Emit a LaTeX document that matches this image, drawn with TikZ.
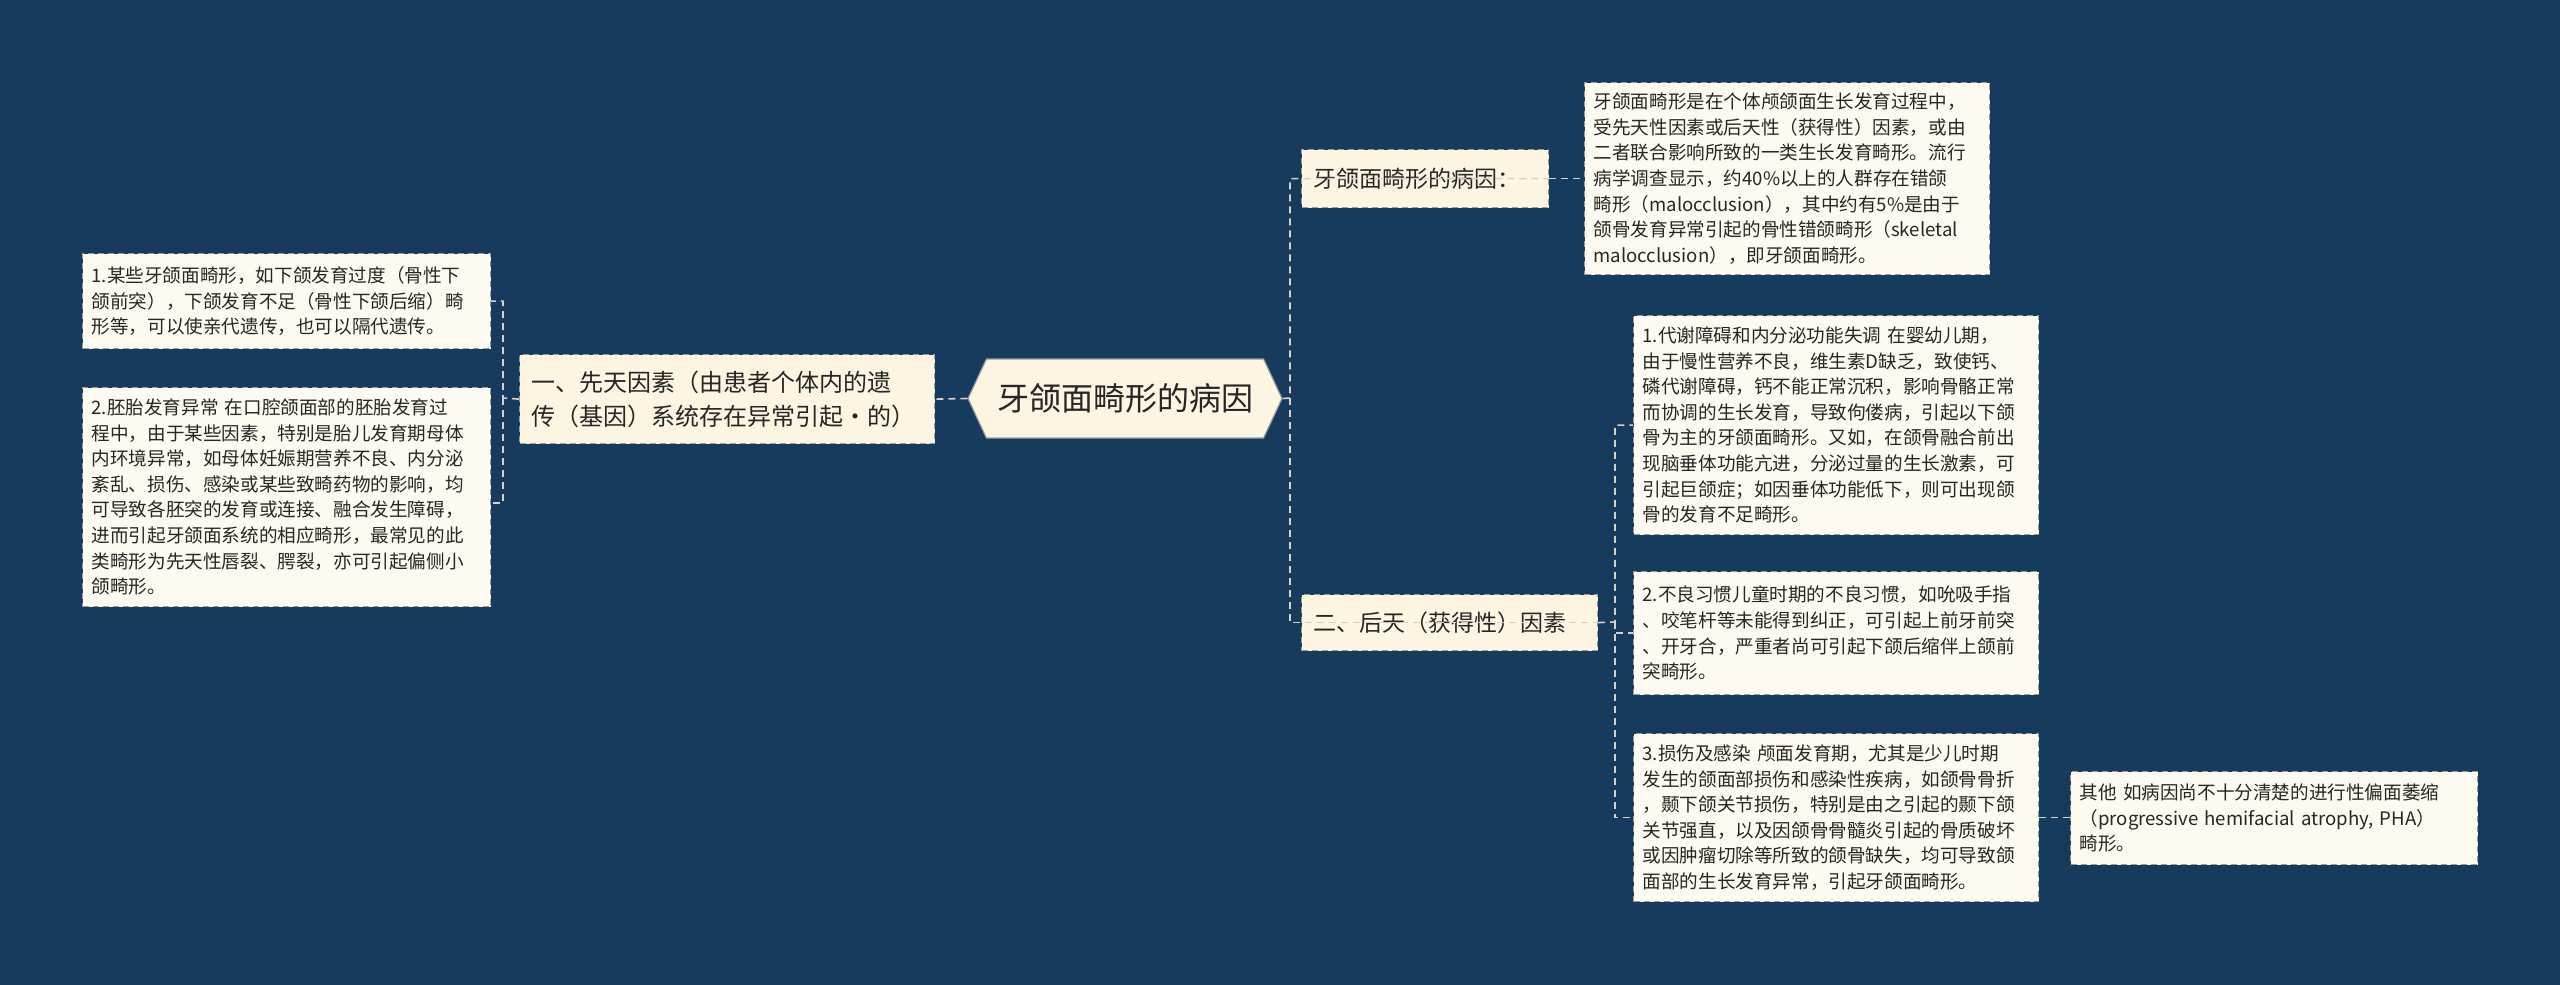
\documentclass[tikz,border=0pt]{standalone}
\usepackage{fontspec}
\setmainfont{Noto Sans CJK SC}
\usetikzlibrary{shapes.symbols}
\definecolor{bgc}{HTML}{173B5C}
\definecolor{boxf}{HTML}{FDFBF1}
\definecolor{midf}{HTML}{FCF5E1}
\definecolor{bord}{HTML}{9A9A9A}
\definecolor{linec}{HTML}{D6D3C6}
\tikzset{
  leaf/.style={draw=bord, dash pattern=on 6pt off 4pt, line width=1.2pt, fill=boxf, anchor=north west, inner xsep=9pt, inner ysep=4pt, align=left,
    font=\fontsize{18.6}{25.6}\selectfont, text=black!85},
  mid/.style={draw=bord, dash pattern=on 6pt off 4pt, line width=1.2pt, fill=midf, anchor=north west, inner xsep=12pt, inner ysep=6pt, align=left,
    font=\fontsize{24}{34}\selectfont, text=black!85},
  conn/.style={draw=linec, dash pattern=on 7pt off 5pt, line width=1.6pt}
}
\begin{document}
\begin{tikzpicture}[x=1pt,y=-1pt]
\fill[bgc] (0,0) rectangle (2560,985);
\useasboundingbox (0,0) rectangle (2560,985);

\node[draw=bord, line width=1.2pt, fill=midf, signal, signal to=west and east, signal pointer angle=130,
  minimum width=314pt, minimum height=79pt, inner sep=4pt, font=\fontsize{32}{38}\selectfont, text=black!85]
  (c) at (1125,398.5) {牙颌面畸形的病因};

\node[mid, text width=391pt, minimum height=89pt] (L) at (519,354)
 {一、先天因素（由患者个体内的遗\\传（基因）系统存在异常引起·的）};
\node[leaf, text width=390pt, minimum height=95pt] (L1) at (82,253)
 {1.某些牙颌面畸形，如下颌发育过度（骨性下\\颌前突），下颌发育不足（骨性下颌后缩）畸\\形等，可以使亲代遗传，也可以隔代遗传。};
\node[leaf, text width=390pt, minimum height=219pt] (L2) at (82,387)
 {2.胚胎发育异常 在口腔颌面部的胚胎发育过\\程中，由于某些因素，特别是胎儿发育期母体\\内环境异常，如母体妊娠期营养不良、内分泌\\紊乱、损伤、感染或某些致畸药物的影响，均\\可导致各胚突的发育或连接、融合发生障碍，\\进而引起牙颌面系统的相应畸形，最常见的此\\类畸形为先天性唇裂、腭裂，亦可引起偏侧小\\颌畸形。};

\node[mid, text width=223pt, minimum height=58pt, font=\fontsize{23}{30}\selectfont] (R1) at (1301,149) {牙颌面畸形的病因：};
\node[leaf, text width=387pt, minimum height=192pt] (R1t) at (1584,82)
 {牙颌面畸形是在个体颅颌面生长发育过程中，\\受先天性因素或后天性（获得性）因素，或由\\二者联合影响所致的一类生长发育畸形。流行\\病学调查显示，约40\%以上的人群存在错颌\\畸形（malocclusion），其中约有5\%是由于\\颌骨发育异常引起的骨性错颌畸形（skeletal\\malocclusion），即牙颌面畸形。};

\node[mid, text width=272pt, minimum height=56pt, font=\fontsize{23}{30}\selectfont] (R2) at (1301,594) {二、后天（获得性）因素};
\node[leaf, text width=387pt, minimum height=219pt] (A1) at (1633,315)
 {1.代谢障碍和内分泌功能失调 在婴幼儿期，\\由于慢性营养不良，维生素D缺乏，致使钙、\\磷代谢障碍，钙不能正常沉积，影响骨骼正常\\而协调的生长发育，导致佝偻病，引起以下颌\\骨为主的牙颌面畸形。又如，在颌骨融合前出\\现脑垂体功能亢进，分泌过量的生长激素，可\\引起巨颌症；如因垂体功能低下，则可出现颌\\骨的发育不足畸形。};
\node[leaf, text width=387pt, minimum height=123pt] (A2) at (1633,571)
 {2.不良习惯儿童时期的不良习惯，如吮吸手指\\、咬笔杆等未能得到纠正，可引起上前牙前突\\、开牙合，严重者尚可引起下颌后缩伴上颌前\\突畸形。};
\node[leaf, text width=387pt, minimum height=168pt] (A3) at (1633,733)
 {3.损伤及感染 颅面发育期，尤其是少儿时期\\发生的颌面部损伤和感染性疾病，如颌骨骨折\\，颞下颌关节损伤，特别是由之引起的颞下颌\\关节强直，以及因颌骨骨髓炎引起的骨质破坏\\或因肿瘤切除等所致的颌骨缺失，均可导致颌\\面部的生长发育异常，引起牙颌面畸形。};
\node[leaf, text width=389pt, minimum height=93pt] (O) at (2070,771)
 {其他 如病因尚不十分清楚的进行性偏面萎缩\\（progressive hemifacial atrophy, PHA）\\畸形。};

\coordinate (jl) at (503,398);
\coordinate (jr) at (1290,398);
\coordinate (j2) at (1615,622);
\draw[conn] (c.west) -- (L.east);
\draw[conn] (L.west) -- (jl) |- (L1.east);
\draw[conn] (jl) |- ([yshift=-6pt]L2.east);
\draw[conn] (c.east) -- (jr) |- (R1.east);
\draw[conn] (jr) |- (R2.east);
\draw[conn] (R1.east) -- (R1t.west |- R1.east);
\draw[conn] (R2.east) -- (j2) |- (A1.west);
\draw[conn] (j2) |- (A2.west);
\draw[conn] (j2) |- (A3.west);
\draw[conn] (A3.east) -- (O.west |- A3.east);
\end{tikzpicture}
\end{document}
